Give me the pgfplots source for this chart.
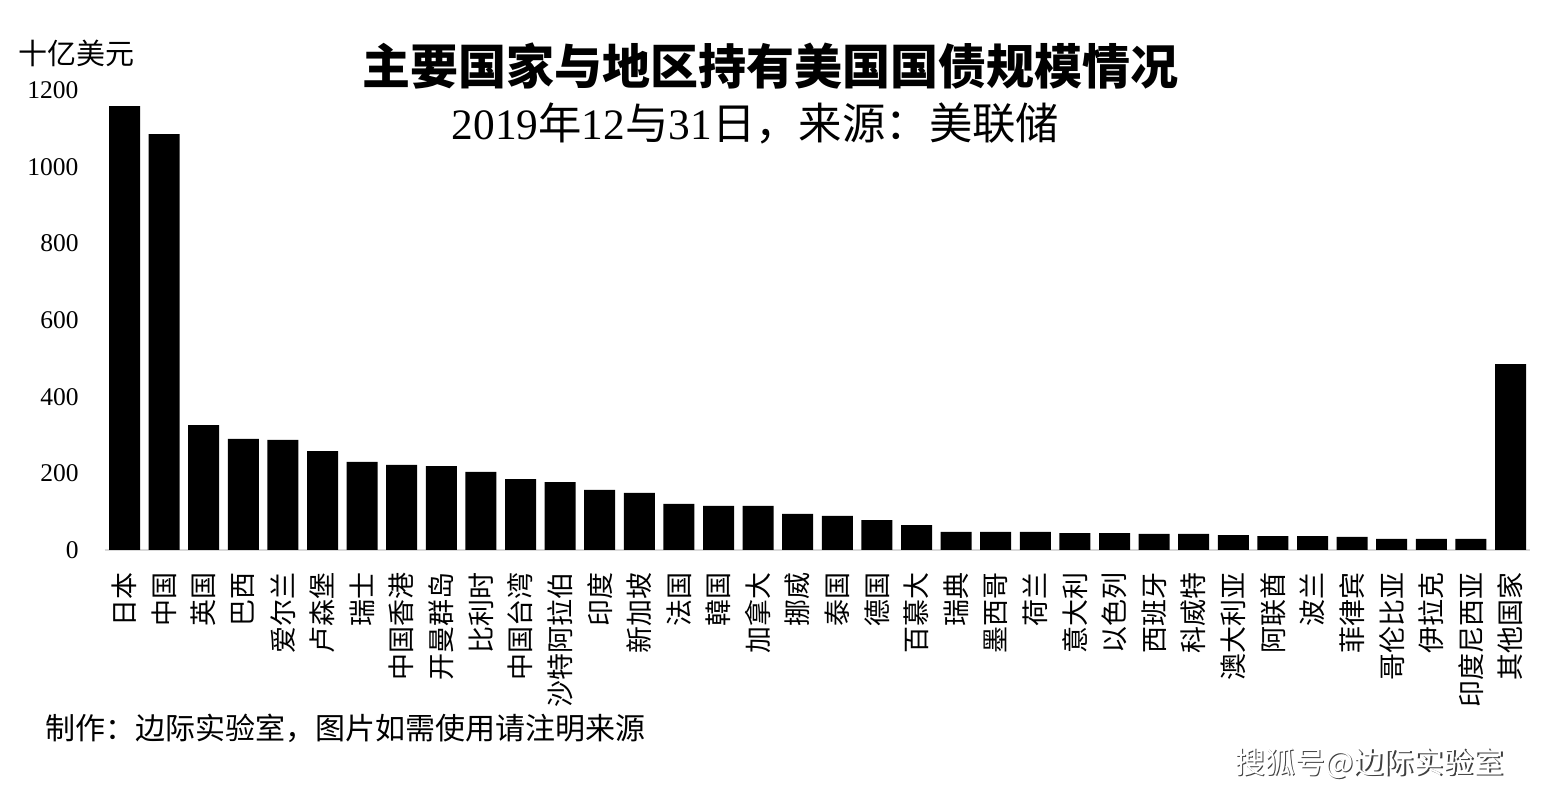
\documentclass[border=0pt]{standalone}
\usepackage{pgfplots}
\pgfplotsset{compat=1.18}
\usepackage{fontspec}
\setmainfont{Liberation Serif}
\newfontfamily\cjk{Noto Sans CJK SC}
\begin{document}
\begin{tikzpicture}[x=1pt,y=1pt]
\useasboundingbox (0,0) rectangle (1543,795);
\begin{axis}[
  at={(104.7pt,245pt)}, anchor=south west,
  scale only axis, width=1425.6pt, height=460pt,
  xmin=-0.5, xmax=35.5, ymin=0, ymax=1200,
  ytick={0,200,...,1200},
  xtick=data,
  xticklabels={日本,中国,英国,巴西,爱尔兰,卢森堡,瑞士,中国香港,开曼群岛,比利时,中国台湾,沙特阿拉伯,印度,新加坡,法国,韓国,加拿大,挪威,泰国,德国,百慕大,瑞典,墨西哥,荷兰,意大利,以色列,西班牙,科威特,澳大利亚,阿联酋,波兰,菲律宾,哥伦比亚,伊拉克,印度尼西亚,其他国家},
  axis line style={draw=none},
  tick style={draw=none},
  ybar, bar width=31pt,
  /pgf/number format/assume math mode=true,
  /pgf/number format/1000 sep={},
  yticklabel style={font=\fontsize{25.5}{25.5}\selectfont, anchor=east, inner sep=0pt, xshift=-26pt},
  xticklabel style={font=\cjk\fontsize{27}{27}\selectfont, yshift=-18pt, rotate=90, anchor=east, inner sep=0pt},
  clip=false,
]
\draw[color=black!15, line width=2pt] (axis cs:-0.5,0) -- (axis cs:35.5,0);
\addplot[fill=black, draw=none] coordinates {
(0,1158) (1,1085) (2,326) (3,290) (4,287) (5,258) (6,230) (7,222) (8,219) (9,204)
(10,185) (11,177) (12,157) (13,149) (14,120) (15,115) (16,115) (17,94) (18,89) (19,78)
(20,65) (21,47) (22,47) (23,47) (24,44) (25,44) (26,42) (27,42) (28,39) (29,36)
(30,36) (31,34) (32,29) (33,29) (34,29) (35,485)
};
\end{axis}
\node[font=\cjk\bfseries\fontsize{48}{48}\selectfont, inner sep=0pt] at (770,729) {主要国家与地区持有美国国债规模情况};
\node[font=\fontsize{43.4}{43.4}\selectfont, inner sep=0pt] at (755.5,671) {2019{\cjk 年}12{\cjk 与}31{\cjk 日，来源：美联储}};
\node[font=\cjk\fontsize{29}{29}\selectfont, inner sep=0pt, anchor=west] at (18,742) {十亿美元};
\node[font=\cjk\fontsize{30}{30}\selectfont, inner sep=0pt, anchor=west] at (45,67) {制作：边际实验室，图片如需使用请注明来源};
\node[font=\cjk\fontsize{30}{30}\selectfont, inner sep=0pt, anchor=west, text=black!75] at (1236.5,30.5) {搜狐号@边际实验室};
\node[font=\cjk\fontsize{30}{30}\selectfont, inner sep=0pt, anchor=west, text=white] at (1235,32) {搜狐号@边际实验室};
\end{tikzpicture}
\end{document}
